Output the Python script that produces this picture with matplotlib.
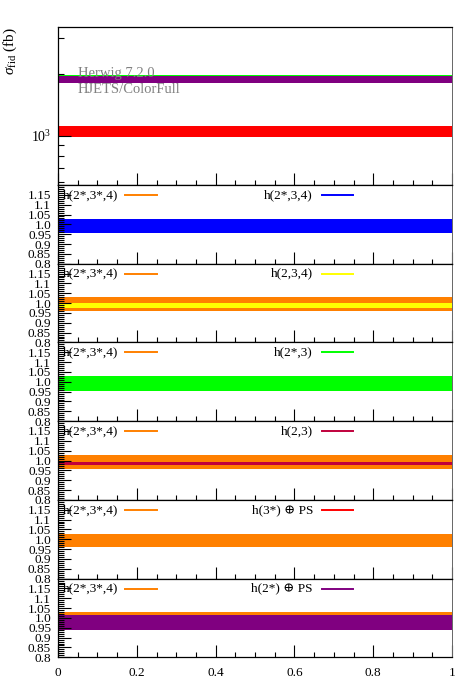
import matplotlib
matplotlib.use("Agg")
import matplotlib.pyplot as plt
from matplotlib.ticker import FixedLocator, FixedFormatter, MultipleLocator, LogLocator, NullFormatter

# ---------------- data ----------------
x_edges = [0.0, 1.0]
series_labels = ['h(2*,3*,4)', 'h(2*,3,4)', 'h(2,3,4)', 'h(2*,3)', 'h(2,3)',
                 'h(3*) \u2295 PS', 'h(2*) \u2295 PS']
series_colors = ['#ff8000', '#0000ff', '#ffff00', '#00ff00', '#c0003c',
                 '#ff0000', '#800080']
xsec_central = [1930, 1913, 1907, 1908, 1902, 1055, 1889]   # fb
xsec_low = [1850, 1843, 1882, 1835, 1886, 990, 1815]
xsec_high = [1985, 1984, 1932, 1982, 1918, 1120, 1963]
ratio_ticks = [0.8, 0.85, 0.9, 0.95, 1.0, 1.05, 1.1, 1.15]
ratio_tick_labels = ['0.8', '0.85', '0.9', '0.95', '1.0', '1.05', '1.1', '1.15']
x_ticks = [0, 0.2, 0.4, 0.6, 0.8, 1.0]
x_tick_labels = ['0', '0.2', '0.4', '0.6', '0.8', '1']
main_ylim = (577, 3400)
ratio_ylim = (0.8, 1.2)
generator_text = ['Herwig 7.2.0', 'HJETS/ColorFull']

FONT = ['Liberation Serif', 'DejaVu Serif']
plt.rcParams['font.family'] = FONT
plt.rcParams['mathtext.fontset'] = 'custom'
plt.rcParams['mathtext.rm'] = 'Liberation Serif'
plt.rcParams['mathtext.it'] = 'Liberation Serif:italic'

W, H = 472, 697
fig = plt.figure(figsize=(W / 100, H / 100), dpi=100)

left_px, right_px = 58, 452
main_top, main_bot = 27, 185
ratio_bot = 657.3
n_ratio = 6
rh = (ratio_bot - main_bot) / n_ratio


def add_ax(top, bot):
    return fig.add_axes([left_px / W, 1 - bot / H, (right_px - left_px) / W, (bot - top) / H])


def style_ax(ax):
    for s in ax.spines.values():
        s.set_linewidth(0.9)
    ax.spines['right'].set_color('#666666')
    ax.spines['right'].set_linewidth(0.7)
    ax.tick_params(which='both', direction='in', top=False, right=False,
                   labelsize=9.5, pad=5)
    ax.tick_params(axis='x', which='major', length=8.5, width=0.8)
    ax.tick_params(axis='x', which='minor', length=3.5, width=0.8)
    ax.set_xlim(x_edges[0], x_edges[-1])
    ax.xaxis.set_major_locator(FixedLocator(x_ticks))
    ax.xaxis.set_major_formatter(FixedFormatter(x_tick_labels))
    ax.xaxis.set_minor_locator(MultipleLocator(0.05))


# ---------------- main panel ----------------
ax0 = add_ax(main_top, main_bot)
style_ax(ax0)
ax0.set_yscale('log')
ax0.set_ylim(*main_ylim)
for lo, hi, col in zip(xsec_low, xsec_high, series_colors):
    ax0.fill_between(x_edges, [lo] * 2, [hi] * 2, color=col, lw=0)
ax0.yaxis.set_major_locator(LogLocator(base=10, numticks=10))
ax0.yaxis.set_minor_locator(LogLocator(base=10, subs=range(2, 10), numticks=10))
ax0.yaxis.set_minor_formatter(NullFormatter())
ax0.tick_params(axis='y', which='major', length=9, width=0.8, labelsize=10)
ax0.tick_params(axis='y', which='minor', length=4.5, width=0.8)
ax0.tick_params(axis='x', labelbottom=False)
ax0.text(-0.122, 1.0, r'$\sigma_{\mathrm{fid}}$ (fb)', transform=ax0.transAxes,
         rotation=90, ha='center', va='top', fontsize=11)
ax0.text(0.05, 0.705, generator_text[0], transform=ax0.transAxes, color='#808080',
         fontsize=10.5, va='center', ha='left')
ax0.text(0.05, 0.605, generator_text[1], transform=ax0.transAxes, color='#808080',
         fontsize=10.5, va='center', ha='left')

# ---------------- ratio panels ----------------
ref_c = xsec_central[0]
for i in range(1, 7):
    top = main_bot + (i - 1) * rh
    ax = add_ax(top, top + rh)
    style_ax(ax)
    ax.set_ylim(*ratio_ylim)
    for j in (0, i):
        ax.fill_between(x_edges, [xsec_low[j] / ref_c] * 2, [xsec_high[j] / ref_c] * 2,
                        color=series_colors[j], lw=0)
    ax.yaxis.set_major_locator(FixedLocator(ratio_ticks))
    ax.yaxis.set_major_formatter(FixedFormatter(ratio_tick_labels))
    ax.yaxis.set_minor_locator(MultipleLocator(0.01))
    ax.tick_params(axis='y', which='major', length=9, width=0.8)
    ax.tick_params(axis='y', which='minor', length=4.5, width=0.8)
    if i < 6:
        ax.tick_params(axis='x', labelbottom=False)
    else:
        ax.tick_params(axis='x', labelsize=9.5, pad=7)
    # legend entries
    ty = 1 - 10 / rh
    ax.text(0.012, ty, series_labels[0], transform=ax.transAxes, fontsize=9.5,
            va='center', ha='left', family=FONT)
    ax.plot([0.170, 0.251], [ty, ty], transform=ax.transAxes, color=series_colors[0],
            lw=1.4, clip_on=False)
    ax.text(0.647, ty, series_labels[i], transform=ax.transAxes, fontsize=9.5,
            va='center', ha='right', family=FONT)
    ax.plot([0.669, 0.749], [ty, ty], transform=ax.transAxes, color=series_colors[i],
            lw=1.4, clip_on=False)

fig.savefig('out.png', dpi=100)
